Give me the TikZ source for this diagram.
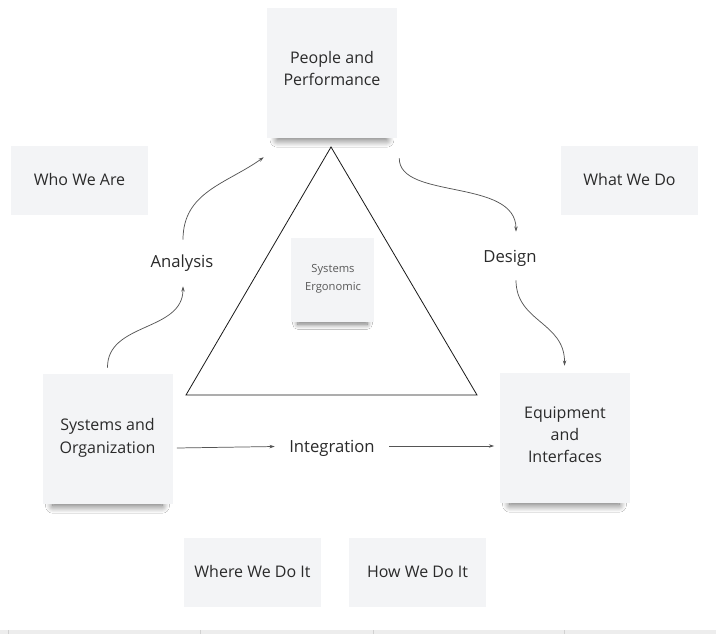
\documentclass[tikz,border=0pt]{standalone}
\usepackage{fontspec}
\setmainfont{Open Sans}
\usetikzlibrary{calc,arrows.meta,shadows.blur}
\definecolor{boxfill}{HTML}{F3F4F6}
\definecolor{txt}{HTML}{2A2A2A}
\definecolor{arr}{HTML}{555555}
\tikzset{
  sticky/.style={fill=boxfill, draw=none, minimum width=97.5pt, minimum height=97.5pt,
    blur shadow={shadow xshift=0pt, shadow yshift=-11pt, shadow opacity=60, shadow scale=0.84, shadow blur radius=6.5pt, shadow blur steps=16}},
  smallsticky/.style={fill=boxfill, draw=none, minimum width=62pt, minimum height=63pt,
    blur shadow={shadow xshift=0pt, shadow yshift=-8pt, shadow opacity=55, shadow scale=0.84, shadow blur radius=4.5pt, shadow blur steps=12}},
  stext/.style={align=center, inner sep=0pt, font=\fontsize{12}{17}\selectfont, text=txt},
  setext/.style={align=center, inner sep=0pt, font=\fontsize{8.4}{13.5}\selectfont, text=black!65},
  tag/.style={fill=boxfill, draw=none, minimum width=102.75pt, minimum height=51.75pt, align=center,
    font=\fontsize{12}{16}\selectfont, text=txt},
  lab/.style={inner sep=0pt, minimum height=36pt, minimum width=85.5pt, font=\fontsize{12.5}{16}\selectfont, text=txt},
  conn/.style={draw=arr, line width=0.55pt, -{Stealth[length=4pt,width=2.6pt]}},
}
\begin{document}
\begin{tikzpicture}[x=0.75pt,y=-0.75pt]
\useasboundingbox (0,0) rectangle (716,634);
\fill[white] (0,0) rectangle (716,634);
\fill[black!7] (0,630) rectangle (716,634);
\foreach \xx in {8,200,373,564} \draw[black!18, line width=0.4pt] (\xx,630) -- (\xx,634);

% tags
\node[tag] (who) at (79.5,180.5) {\raisebox{1pt}{Who We Are}};
\node[tag] (what) at (629.5,180.5) {\raisebox{1pt}{What We Do}};
\node[tag] (where) at (252.5,572.5) {\raisebox{1pt}{Where We Do It}};
\node[tag] (how) at (417.5,572.5) {\raisebox{1pt}{How We Do It}};

% triangle
\coordinate (ta) at (331,147);
\coordinate (tl) at (186,395);
\coordinate (tr) at (477,395);
\draw[black!90, line width=0.6pt] (ta) -- (tl) -- (tr) -- cycle;

% stickies
\node[sticky] (pp) at (332,73) {};
\node[stext] (ppt) at (332,68.5) {People and\\Performance};
\node[sticky] (so) at (107.5,439) {};
\node[stext] (sot) at (107.5,438) {Systems and\\Organization};
\node[sticky] (eq) at (564.5,438) {};
\node[stext, font=\fontsize{12}{16.5}\selectfont] (eqt) at (565,435) {Equipment\\and\\Interfaces};
\node[smallsticky] (se) at (332.5,280) {};
\node[setext] (set) at (333,279) {Systems\\Ergonomic};

% labels
\node[lab] (an) at (182,263) {\raisebox{-0.5pt}{Analysis}};
\node[lab] (de) at (510,258) {\raisebox{-1.5pt}{Design}};
\node[lab] (in) at (332,448) {\raisebox{-1.5pt}{Integration}};

% connectors
\draw[conn] ($(so.north)+(0,-6)$) .. controls (107,322) and (183,332) .. ($(an.south)+(1,-1)$);
\draw[conn] ($(an.north)+(1,1)$) .. controls (183,192) and (226,184) .. ($(pp.south west)+(-3,19)$);
\draw[conn] ($(pp.south east)+(2,20)$) .. controls (399,200) and (516,178) .. ($(de.north)+(6,-2)$);
\draw[conn] ($(de.south)+(6,-2)$) .. controls (516,322) and (565,322) .. ($(eq.north)+(0,-7)$);
\draw[conn] ($(so.east)+(4,9)$) -- ($(in.west)+(0,-1.5)$);
\draw[conn] ($(in.east)+(0,-2)$) -- ($(eq.west)+(-5,8)$);
\end{tikzpicture}
\end{document}
